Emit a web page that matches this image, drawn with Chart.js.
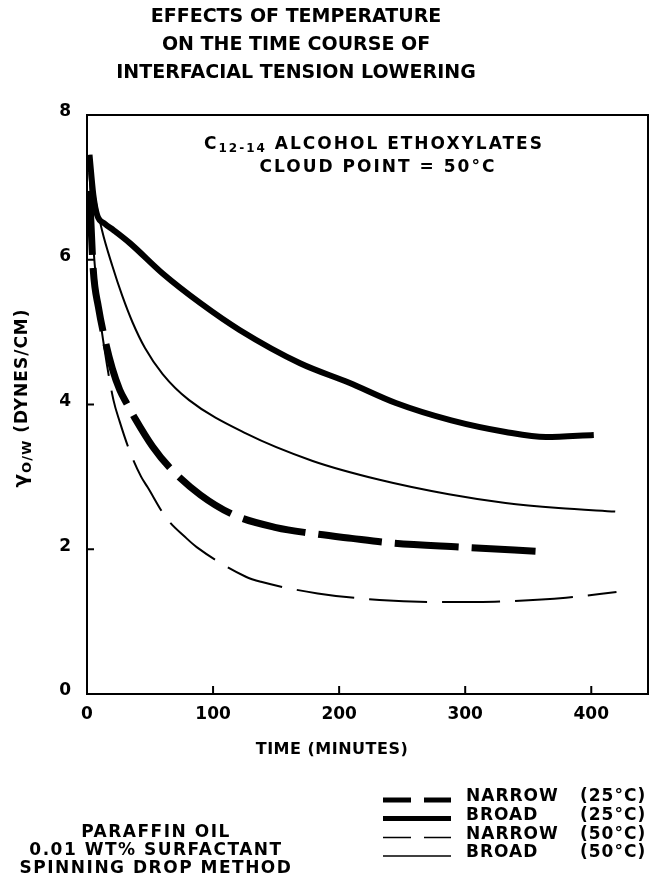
<!DOCTYPE html>
<html>
<head>
<meta charset="utf-8">
<script src="https://cdn.jsdelivr.net/npm/chart.js@4.4.1/dist/chart.umd.min.js"></script>
<style>
  html, body { margin: 0; padding: 0; background: #fff; }
  #wrap { width: 651px; height: 886px; }
</style>
</head>
<body>
<div id="wrap"><canvas id="chartIft" width="651" height="886"></canvas></div>
<script>
// ── values (time in minutes, tension in dynes/cm) ──
const narrow25Time  = [2, 5, 9, 13, 20, 26, 32, 38, 52, 66, 90, 117, 150, 178, 210, 240, 297, 360];
const narrow25Gamma = [6.95, 5.85, 5.35, 4.99, 4.5, 4.2, 4.0, 3.81, 3.42, 3.12, 2.75, 2.47, 2.3, 2.22, 2.15, 2.09, 2.03, 1.97];

const broad25Time  = [2, 5, 8, 14, 21, 34, 60, 90, 121, 169, 208, 245, 289, 332, 364, 402];
const broad25Gamma = [7.45, 6.9, 6.62, 6.5, 6.41, 6.23, 5.81, 5.4, 5.03, 4.57, 4.3, 4.02, 3.78, 3.62, 3.55, 3.58];

const narrow50Time  = [2, 5, 9, 14, 21, 26, 34, 43, 48, 63, 79, 87, 126, 138, 183, 232, 280, 330, 380, 420];
const narrow50Gamma = [7.2, 6.2, 5.4, 4.75, 4.06, 3.76, 3.35, 3.0, 2.86, 2.43, 2.15, 2.03, 1.62, 1.55, 1.39, 1.3, 1.27, 1.28, 1.33, 1.41];

const broad50Time  = [2, 6, 12, 20, 28, 36, 46, 60, 81, 126, 179, 232, 287, 332, 374, 419];
const broad50Gamma = [7.45, 6.9, 6.4, 5.92, 5.5, 5.14, 4.78, 4.42, 4.06, 3.6, 3.22, 2.96, 2.76, 2.64, 2.57, 2.52];

const xTicks = [0, 100, 200, 300, 400];
const yTicks = [0, 2, 4, 6, 8];

const seriesNames = ['NARROW', 'BROAD', 'NARROW', 'BROAD'];
const seriesTemps = ['(25°C)', '(25°C)', '(50°C)', '(50°C)'];

const titleLines = ['EFFECTS OF TEMPERATURE', 'ON THE TIME COURSE OF', 'INTERFACIAL TENSION LOWERING'];
const conditionLines = ['PARAFFIN OIL', '0.01 WT% SURFACTANT', 'SPINNING DROP METHOD'];

const FONT = "'DejaVu Sans', 'Liberation Sans', sans-serif";

function pts(xs, ys) { return xs.map((t, i) => ({ x: t, y: ys[i] })); }

// draw a run of text pieces [text, size, dy] centred on cx
function drawParts(ctx, parts, cx, base) {
  let total = 0;
  parts.forEach(p => { ctx.font = `bold ${p[1]}px ${FONT}`; total += ctx.measureText(p[0]).width; });
  let x = cx - total / 2;
  parts.forEach(p => {
    ctx.font = `bold ${p[1]}px ${FONT}`;
    ctx.fillText(p[0], x, base + (p[2] || 0));
    x += ctx.measureText(p[0]).width;
  });
}

function seg(ctx, x1, y1, x2, y2) {
  ctx.beginPath(); ctx.moveTo(x1, y1); ctx.lineTo(x2, y2); ctx.stroke();
}

// ── frame, inward ticks, titles, notes and legend ──
const notesPlugin = {
  id: 'notes',
  afterDraw(chart) {
    const { ctx, chartArea: a, scales } = chart;
    const sx = scales.x, sy = scales.y;
    ctx.save();
    ctx.strokeStyle = '#000';
    ctx.fillStyle = '#000';
    ctx.lineWidth = 2;
    ctx.strokeRect(a.left, a.top, a.right - a.left, a.bottom - a.top);

    xTicks.slice(1).forEach(v => { const px = sx.getPixelForValue(v); seg(ctx, px, a.bottom, px, a.bottom - 8); });
    yTicks.slice(1, -1).forEach(v => { const py = sy.getPixelForValue(v); seg(ctx, a.left, py, a.left + 7, py); });

    ctx.textAlign = 'left';
    ctx.textBaseline = 'alphabetic';

    // title
    ctx.letterSpacing = '0px';
    titleLines.forEach((s, i) => drawParts(ctx, [[s, 19]], 296, 21.5 + i * 28));

    // note inside the plot
    ctx.letterSpacing = '2px';
    drawParts(ctx, [['C', 17], ['12-14', 12, 3], [' ALCOHOL ETHOXYLATES', 17]], 374, 148.5);
    drawParts(ctx, [['CLOUD POINT = 50°C', 17]], 378, 171.5);

    // x axis title
    ctx.letterSpacing = '0.5px';
    drawParts(ctx, [['TIME (MINUTES)', 16]], 332, 754);

    // y axis title
    ctx.letterSpacing = '1px';
    ctx.save();
    ctx.translate(27, 398);
    ctx.rotate(-Math.PI / 2);
    drawParts(ctx, [['γ', 20], ['O/W', 13, 4], [' (DYNES/CM)', 17]], 0, 0);
    ctx.restore();

    // conditions block
    ctx.letterSpacing = '1.5px';
    conditionLines.forEach((s, i) => drawParts(ctx, [[s, 17]], 156, 837 + i * 18));

    // legend
    const rowY = [795, 813.5, 832.5, 851];
    chart.data.datasets.forEach((ds, i) => {
      const y = rowY[i];
      ctx.lineWidth = ds.borderWidth > 3 ? 5 : 1.6;
      ctx.setLineDash(ds.borderDash.length ? [28, 13] : []);
      seg(ctx, 383, y + 5, 451, y + 5);
      ctx.setLineDash([]);
      ctx.letterSpacing = '1px';
      ctx.font = `bold 17px ${FONT}`;
      ctx.fillText(seriesNames[i], 466, y + 6.2);
      ctx.fillText(seriesTemps[i], 580, y + 6.2);
    });
    ctx.restore();
  }
};

const lineStyle = { pointRadius: 0, fill: false, borderColor: '#000', cubicInterpolationMode: 'monotone', borderCapStyle: 'butt' };

Chart.defaults.font.family = FONT;
Chart.defaults.color = '#000';

new Chart(document.getElementById('chartIft'), {
  type: 'line',
  data: {
    datasets: [
      { ...lineStyle, label: 'NARROW (25°C)', data: pts(narrow25Time, narrow25Gamma), borderWidth: 7, borderDash: [64, 13] },
      { ...lineStyle, label: 'BROAD (25°C)', data: pts(broad25Time, broad25Gamma), borderWidth: 6, borderDash: [] },
      { ...lineStyle, label: 'NARROW (50°C)', data: pts(narrow50Time, narrow50Gamma), borderWidth: 2, borderDash: [58, 15] },
      { ...lineStyle, label: 'BROAD (50°C)', data: pts(broad50Time, broad50Gamma), borderWidth: 2, borderDash: [] },
    ],
  },
  options: {
    responsive: false,
    animation: false,
    layout: { padding: { top: 115, right: 3, left: 0, bottom: 0 } },
    plugins: { legend: { display: false }, title: { display: false }, tooltip: { enabled: false } },
    scales: {
      x: {
        type: 'linear', min: 0, max: 445,
        afterFit: s => { s.height = 192; },
        grid: { display: false, drawTicks: false },
        border: { display: false },
        ticks: { stepSize: 100, includeBounds: false, padding: 10, maxRotation: 0, font: { size: 17, weight: 'bold' } },
      },
      y: {
        type: 'linear', min: 0, max: 8,
        afterFit: s => { s.width = 87; },
        grid: { display: false, drawTicks: false },
        border: { display: false },
        ticks: { stepSize: 2, padding: 16, labelOffset: -3, font: { size: 17, weight: 'bold' } },
      },
    },
  },
  plugins: [notesPlugin],
});
</script>
</body>
</html>
